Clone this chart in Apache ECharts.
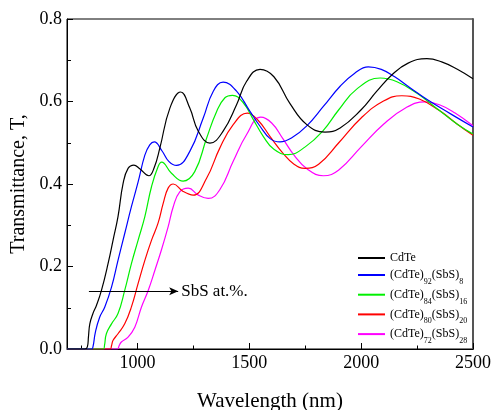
<!DOCTYPE html>
<html>
<head>
<meta charset="utf-8">
<script src="https://cdn.jsdelivr.net/npm/echarts@6/dist/echarts.min.js"></script>
<style>html,body{margin:0;padding:0;background:#fff}#c{width:495px;height:410px}</style>
</head>
<body>
<div id="c"></div>
<script>
// Data (wavelength nm, transmittance)
var cdte = [[685,0],[765,0],[776,0.005],[781,0.03],[787,0.061],[801,0.086],[817,0.106],[839,0.142],[869,0.208],[891,0.264],[913,0.321],[936,0.402],[958,0.438],[984,0.446],[1010,0.437],[1051,0.42],[1075,0.44],[1100,0.487],[1145,0.584],[1193,0.623],[1234,0.584],[1272,0.528],[1324,0.499],[1383,0.528],[1443,0.592],[1488,0.649],[1548,0.678],[1610,0.66],[1682,0.595],[1757,0.544],[1838,0.526],[1906,0.536],[2000,0.58],[2070,0.625],[2138,0.665],[2210,0.693],[2294,0.704],[2360,0.696],[2430,0.678],[2500,0.655]];
var s92 = [[685,0],[795,0],[801,0.005],[812,0.041],[831,0.077],[854,0.102],[884,0.15],[913,0.215],[943,0.28],[973,0.345],[1003,0.405],[1033,0.47],[1055,0.495],[1075,0.502],[1110,0.48],[1140,0.455],[1175,0.445],[1234,0.479],[1294,0.56],[1339,0.625],[1383,0.647],[1443,0.625],[1503,0.576],[1548,0.54],[1593,0.51],[1637,0.502],[1690,0.512],[1757,0.541],[1831,0.588],[1906,0.637],[1970,0.668],[2032,0.684],[2090,0.678],[2150,0.66],[2220,0.633],[2300,0.603],[2400,0.57],[2500,0.538]];
var s84 = [[685,0],[848,0],[853,0.01],[861,0.037],[884,0.061],[913,0.086],[943,0.142],[973,0.207],[1003,0.264],[1033,0.321],[1063,0.394],[1092,0.442],[1108,0.453],[1152,0.426],[1204,0.407],[1256,0.43],[1309,0.511],[1354,0.576],[1391,0.609],[1425,0.615],[1473,0.597],[1518,0.556],[1563,0.515],[1610,0.484],[1674,0.471],[1750,0.49],[1831,0.53],[1900,0.58],[1980,0.63],[2085,0.657],[2160,0.648],[2250,0.62],[2350,0.578],[2430,0.545],[2500,0.521]];
var s80 = [[685,0],[878,0],[884,0.008],[891,0.021],[913,0.037],[943,0.061],[973,0.102],[1003,0.159],[1033,0.215],[1063,0.264],[1092,0.305],[1115,0.353],[1137,0.39],[1160,0.4],[1204,0.382],[1249,0.373],[1309,0.414],[1368,0.487],[1428,0.544],[1491,0.572],[1540,0.554],[1593,0.515],[1650,0.475],[1700,0.448],[1749,0.438],[1810,0.448],[1900,0.5],[2000,0.56],[2100,0.601],[2182,0.614],[2260,0.606],[2350,0.578],[2430,0.545],[2500,0.518]];
var s72 = [[685,0],[910,0],[918,0.008],[928,0.017],[958,0.029],[988,0.053],[1018,0.102],[1048,0.142],[1078,0.191],[1107,0.24],[1137,0.296],[1160,0.345],[1189,0.381],[1227,0.39],[1272,0.373],[1316,0.365],[1368,0.386],[1428,0.455],[1488,0.52],[1551,0.562],[1600,0.548],[1650,0.51],[1700,0.47],[1760,0.436],[1831,0.42],[1900,0.434],[2000,0.49],[2100,0.545],[2200,0.585],[2286,0.599],[2350,0.592],[2420,0.572],[2500,0.541]];
var seriesNames = ['CdTe','(CdTe)92(SbS)8','(CdTe)84(SbS)16','(CdTe)80(SbS)20','(CdTe)72(SbS)28'];
var seriesColors = ['#000000','#0000ff','#00f000','#ff0000','#ff00ff'];
var xMajorTicks = [1000,1500,2000,2500];
var xMinorTicks = [750,1250,1750,2250];
var arrowStart = [783,0.14];
var arrowEnd = [1182,0.14];
var annotation = 'SbS at.%.';

var FONT = "'Liberation Serif','Times New Roman',serif";
var allData = [cdte,s92,s84,s80,s72];
var chart = echarts.init(document.getElementById('c'), null, {renderer:'canvas'});

function fmtLegend(name){
  if (name.indexOf('(') < 0) return '{p|' + name + '}';
  return '{a|' + name.replace(/\)(\d+)/g, ')}{s|$1}{a|') + '}';
}
var rich = {
  a:{fontFamily:FONT,fontSize:12,lineHeight:14,padding:[2,0,2,0],color:'#000'},
  s:{fontFamily:FONT,fontSize:8,lineHeight:4,padding:[14,0,0,0],color:'#000'},
  p:{fontFamily:FONT,fontSize:12,lineHeight:14,color:'#000'}
};

var series = allData.map(function(d,i){
  var s = {
    name: seriesNames[i], type:'line', data:d, smooth:0.45,
    symbol:'none', showSymbol:false, silent:true, animation:false,
    lineStyle:{color:seriesColors[i], width:1.2}, itemStyle:{color:seriesColors[i]},
    z: 5 - i
  };
  if (i === 0) {
    s.markLine = {
      silent:true, animation:false, symbol:['none','arrow'], symbolSize:[6,9],
      lineStyle:{color:'#000', type:'solid', width:1.1},
      label:{show:true, position:'end', formatter:annotation, fontFamily:FONT, fontSize:17, color:'#000', distance:3},
      data:[[{coord:arrowStart},{coord:arrowEnd}]]
    };
  }
  return s;
});

var legendCommon = {orient:'vertical', left:357, padding:0, itemWidth:27, itemHeight:14,
  formatter:fmtLegend, textStyle:{rich:rich}, selectedMode:false,
  itemStyle:{opacity:0, borderWidth:0}};

var option = {
  backgroundColor:'#fff',
  animation:false,
  grid:{left:67, right:22, top:19, bottom:61, show:true, borderColor:'#000', borderWidth:1, backgroundColor:'transparent', outerBoundsMode:'none', containLabel:false},
  legend:[
    Object.assign({data:[seriesNames[0]], top:252, itemGap:2}, legendCommon),
    Object.assign({data:seriesNames.slice(1), top:264, itemGap:-2.3}, legendCommon)
  ],
  xAxis:[
    {type:'value', min:685, max:2500, position:'bottom',
     name:'Wavelength (nm)', nameLocation:'middle', nameGap:42,
     nameTextStyle:{fontFamily:FONT, fontSize:21, color:'#000'},
     axisLine:{show:true, lineStyle:{color:'#000', width:1}},
     axisTick:{show:true, inside:true, length:6, customValues:xMajorTicks, lineStyle:{color:'#000'}},
     axisLabel:{show:true, customValues:xMajorTicks, margin:5, fontFamily:FONT, fontSize:18, color:'#000', formatter:function(v){return String(v);}},
     splitLine:{show:false}},
    {type:'value', min:685, max:2500, position:'bottom',
     axisLine:{show:false},
     axisTick:{show:true, inside:true, length:3.5, customValues:xMinorTicks, lineStyle:{color:'#000'}},
     axisLabel:{show:false}, splitLine:{show:false}}
  ],
  yAxis:[
    {type:'value', min:0, max:0.8, interval:0.2,
     name:'Transmittance, T,', nameLocation:'middle', nameGap:36,
     nameTextStyle:{fontFamily:FONT, fontSize:20, color:'#000'},
     axisLine:{show:true, lineStyle:{color:'#000', width:1}},
     axisTick:{show:true, inside:true, length:6, lineStyle:{color:'#000'}},
     minorTick:{show:true, splitNumber:2, length:4, lineStyle:{color:'#000'}},
     axisLabel:{margin:5, fontFamily:FONT, fontSize:18, color:'#000', formatter:function(v){return v.toFixed(1);}},
     splitLine:{show:false}},
    {type:'value', min:0, max:0.8, position:'right',
     axisLine:{show:true, lineStyle:{color:'#555', width:2}},
     axisTick:{show:false}, axisLabel:{show:false}, splitLine:{show:false}}
  ],
  series: series
};
chart.setOption(option);
</script>
</body>
</html>
